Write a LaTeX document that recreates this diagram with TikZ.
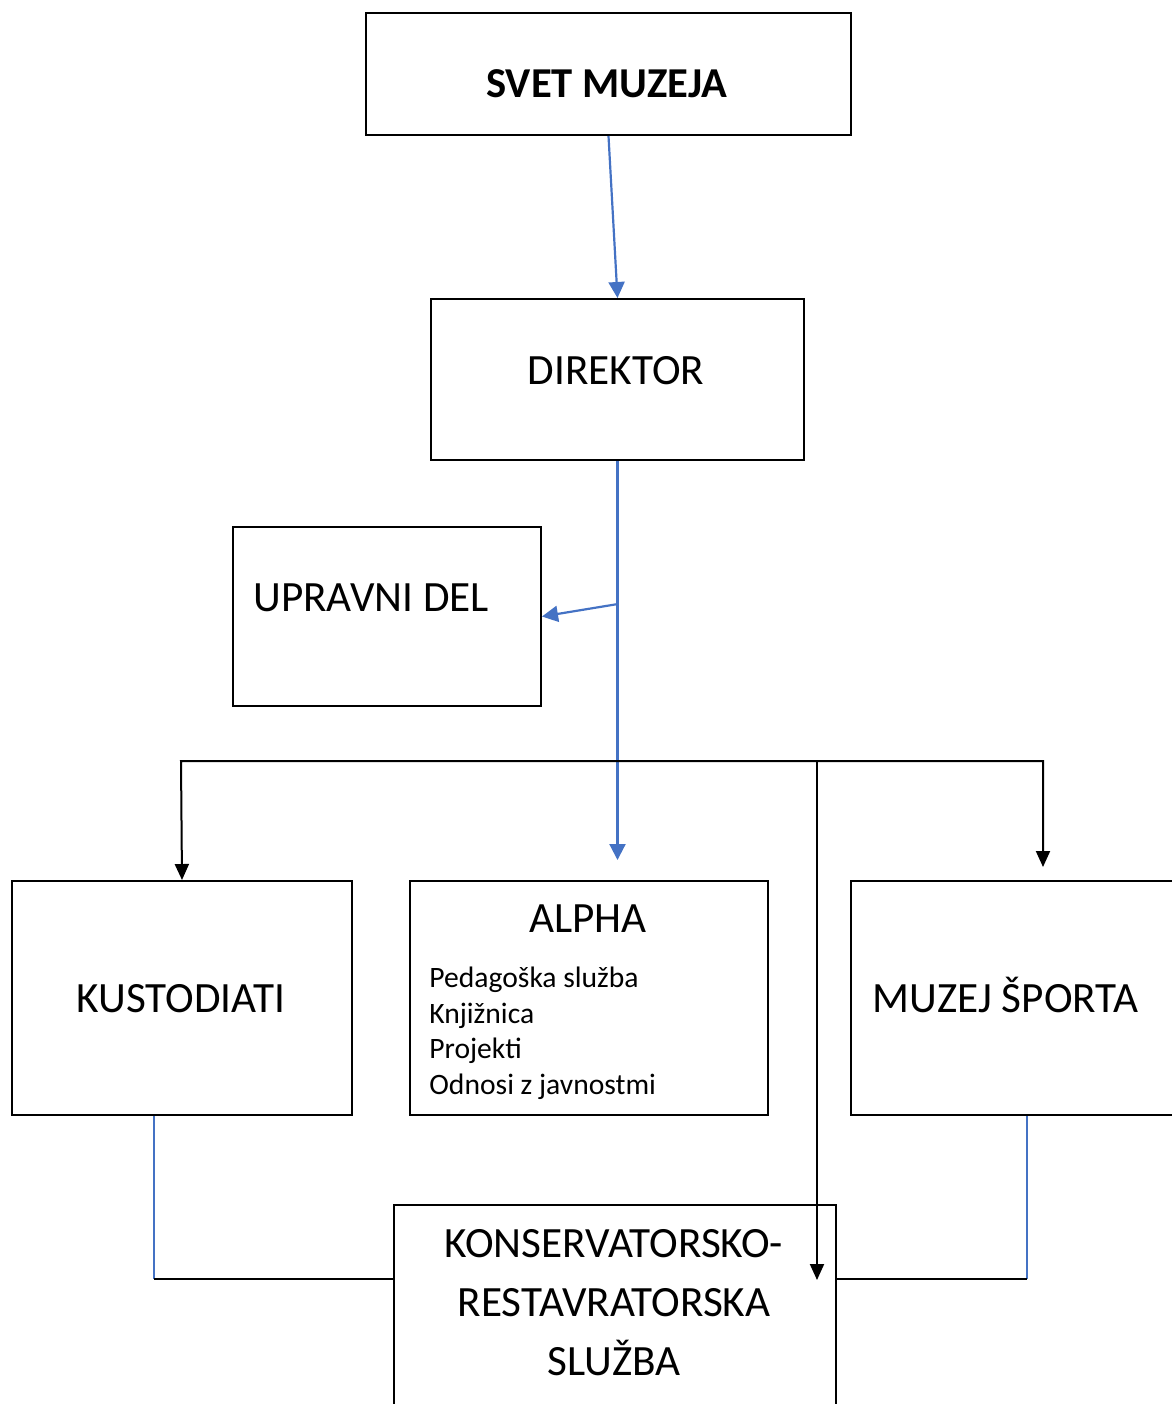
\documentclass[tikz,border=0pt]{standalone}
\usepackage{fontspec}
\setmainfont{Carlito}
\usetikzlibrary{arrows.meta, positioning}
\definecolor{LineBlue}{RGB}{68, 114, 196}

\begin{document}
\begin{tikzpicture}[x=0.5pt, y=-0.5pt,
            box/.style={rectangle, draw, line width=1pt, inner sep=0pt, anchor=north west},
            lbl/.style={inner sep=0pt, anchor=base, font=\fontsize{21.6}{26}\selectfont},
            blueline/.style={draw=LineBlue, line width=1.1pt},
            bluearrow/.style={blueline, -{Triangle[width=8pt,length=8pt]}},
            blackarrow/.style={draw, line width=1pt, -{Triangle[width=7pt,length=8pt]}},
        ]
            \useasboundingbox (0,0) rectangle (1172,1404);
            \node[box, minimum width=242.5pt, minimum height=61pt] (svet) at (365,12) {};
            \node[box, minimum width=186.5pt, minimum height=80.5pt] (direktor) at (430,298) {};
            \node[box, minimum width=154pt, minimum height=89.5pt] (upravni) at (232,526) {};
            \node[box, minimum width=170pt, minimum height=117pt] (kustodiati) at (11,880) {};
            \node[box, minimum width=179pt, minimum height=117pt] (alpha) at (409,880) {};
            \node[box, minimum width=170pt, minimum height=117pt] (muzej) at (850,880) {};
            \node[box, minimum width=221pt, minimum height=110pt] (konserv) at (393,1204) {};

            \node[lbl, font=\fontsize{21.3}{26}\selectfont\bfseries] (svettext) at (607,97) {SVET MUZEJA};
            \node[lbl] (direktortext) at (616,384) {DIREKTOR};
            \node[lbl, anchor=base west] (upravnitext) at (253,611) {UPRAVNI DEL};
            \node[lbl] (kustotext) at (181,1012) {KUSTODIATI};
            \node[lbl] (alphatext) at (588,932) {ALPHA};
            \node[lbl, anchor=base west, align=left, font=\fontsize{14.8}{17.75}\selectfont] (alphalist) at (429,1094) {Pedagoška služba\\Knjižnica\\Projekti\\Odnosi z javnostmi};
            \node[lbl, anchor=base west] (muzejtext) at (872,1012) {MUZEJ ŠPORTA};
            \node[lbl, align=center, font=\fontsize{21.6}{29.5}\selectfont] (konservtext) at (614,1375) {KONSERVATORSKO-\\RESTAVRATORSKA\\SLUŽBA};

            \coordinate (split) at (618,604);
            \coordinate (alphain) at (618,860);
            \coordinate (busl) at (181,761);
            \coordinate (busr) at (1043,761);
            \coordinate (muzejin) at (1043,867);
            \coordinate (konsin) at (817,1280);
            \coordinate (kleft) at (154,1279);
            \coordinate (mright) at (1027,1279);

            \draw[bluearrow] (svet.south) -- (direktor.north);
            \draw[bluearrow] (direktor.south) -- (direktor.south |- alphain);
            \draw[bluearrow] (split) -- (upravni.east);
            \draw[blackarrow, {Triangle[width=7pt,length=8pt]}-{Triangle[width=7pt,length=8pt]}] (kustodiati.north) -- (busl) -- (busr) -- (muzejin);
            \draw[blackarrow] (konsin |- busl) -- (konsin);
            \draw[blueline] (kustodiati.south -| kleft) -- (kleft);
            \draw[line width=1pt] (kleft) -- (kleft -| konserv.west);
            \draw[blueline] (muzej.south -| mright) -- (mright);
            \draw[line width=1pt] (mright) -- (mright -| konserv.east);
        \end{tikzpicture}
\end{document}
